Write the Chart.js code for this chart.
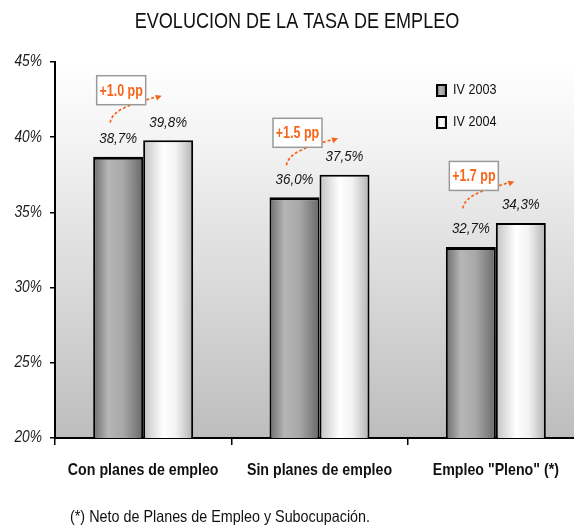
<!DOCTYPE html>
<html>
<head>
<meta charset="utf-8">
<script src="https://cdn.jsdelivr.net/npm/chart.js@4.4.1/dist/chart.umd.min.js"></script>
<style>
  html, body { margin: 0; padding: 0; background: #fff; overflow: hidden; }
  #wrap { width: 584px; height: 530px; }
</style>
</head>
<body>
<div id="wrap"><canvas id="tasaChart" width="584" height="530"></canvas></div>
<script>
// ====================== DATA ======================
const categories = ["Con planes de empleo", "Sin planes de empleo", "Empleo \"Pleno\" (*)"];
const seriesNames = ["IV 2003", "IV 2004"];
const tasa2003 = [38.7, 36.0, 32.7];
const tasa2004 = [39.8, 37.5, 34.3];
const cambioPP = [1.0, 1.5, 1.7];
const yTicks = [20, 25, 30, 35, 40, 45];

// ====================== STYLE ======================
const FONT = "'Liberation Sans', Arial, sans-serif";
const ORANGE = "#f4661b";
const CAT_PCT = 0.567;
const boxLift = [50, 42, 47];   // how far each change box sits above the 2004 bar

const fill2003 = [[0, "#6c6c6c"], [0.3, "#b6b6b6"], [0.6, "#a8a8a8"], [1, "#686868"]];
const fill2004 = [[0, "#c2c2c2"], [0.4, "#ffffff"], [0.65, "#f3f3f3"], [1, "#b2b2b2"]];

// horizontal shading across each bar, worked out from the x scale
function barGradient(context, stops) {
    const chart = context.chart;
    const xs = chart.scales.x;
    if (context.type !== "data" || !xs || !chart.chartArea) return stops[1][1];
    const nSets = chart.data.datasets.length;
    const barW = xs.width / chart.data.labels.length * CAT_PCT / nSets;
    const left = xs.getPixelForValue(context.dataIndex) - barW * nSets / 2 + barW * context.datasetIndex;
    const g = chart.ctx.createLinearGradient(left, 0, left + barW, 0);
    stops.forEach(([o, c]) => g.addColorStop(o, c));
    return g;
}

// condensed text (no narrow face installed, so squeeze horizontally)
function narrowText(ctx, text, x, y, font, align = "center", squeeze = 0.82, color = "#111") {
    ctx.save();
    ctx.font = font;
    ctx.fillStyle = color;
    ctx.textBaseline = "middle";
    ctx.textAlign = align;
    ctx.translate(x, y);
    ctx.scale(squeeze, 1);
    ctx.fillText(text, 0, 0);
    ctx.restore();
}

// ====================== PLUGINS ======================
const plotBackground = {
    id: "plotBackground",
    beforeDraw(chart) {
        const { ctx, chartArea: a } = chart;
        const g = ctx.createLinearGradient(0, a.top, 0, a.bottom);
        g.addColorStop(0, "#ffffff");
        g.addColorStop(0.25, "#f1f1f1");
        g.addColorStop(1, "#bdbdbd");
        ctx.save();
        ctx.fillStyle = g;
        ctx.fillRect(a.left, a.top, a.right - a.left, a.bottom - a.top);
        ctx.restore();
    }
};

function drawArrow(ctx, x0, y0, x3, y3) {
    ctx.save();
    ctx.strokeStyle = ORANGE;
    ctx.fillStyle = ORANGE;
    ctx.lineWidth = 1.7;
    ctx.setLineDash([3, 2]);
    ctx.beginPath();
    ctx.moveTo(x0, y0);
    ctx.bezierCurveTo(x0 + 2, y0 - 14, x0 + 24, y3 + 8, x3 - 5, y3 + 1);
    ctx.stroke();
    ctx.setLineDash([]);
    // arrow head
    const ang = Math.atan2(-3, 8);
    ctx.beginPath();
    ctx.moveTo(x3, y3);
    ctx.lineTo(x3 - 6 * Math.cos(ang) + 3 * Math.sin(ang), y3 - 6 * Math.sin(ang) - 3 * Math.cos(ang));
    ctx.lineTo(x3 - 6 * Math.cos(ang) - 3 * Math.sin(ang), y3 - 6 * Math.sin(ang) + 3 * Math.cos(ang));
    ctx.closePath();
    ctx.fill();
    ctx.restore();
}

const valueNotes = {
    id: "valueNotes",
    afterDatasetsDraw(chart) {
        const { ctx } = chart;
        const m0 = chart.getDatasetMeta(0);
        const m1 = chart.getDatasetMeta(1);

        // value labels over the bars
        [m0, m1].forEach((meta, d) => {
            meta.data.forEach((bar, i) => {
                const v = chart.data.datasets[d].data[i];
                narrowText(ctx, v.toFixed(1).replace(".", ",") + "%", bar.x, bar.y - 18,
                    "italic 15.5px " + FONT, "center", 0.86, "#141414");
            });
        });

        // change boxes with arrows
        m0.data.forEach((bar, i) => {
            const w = 49, h = 29;
            const cx = bar.x + 3;
            const cy = m1.data[i].y - boxLift[i];
            const left = cx - w / 2, top = cy - h / 2;
            drawArrow(ctx, cx - 11, top + h + 18, left + w + 16, top + h - 9);
            ctx.save();
            ctx.fillStyle = "#ffffff";
            ctx.fillRect(left, top, w, h);
            ctx.strokeStyle = "#9a9a9a";
            ctx.lineWidth = 1.5;
            ctx.strokeRect(left, top, w, h);
            ctx.restore();
            narrowText(ctx, "+" + cambioPP[i].toFixed(1) + " pp", cx, cy + 1,
                "bold 16px " + FONT, "center", 0.78, ORANGE);
        });
    },
    afterDraw(chart) {
        const { ctx } = chart;
        const xs = chart.scales.x;
        const ys = chart.scales.y;

        narrowText(ctx, "EVOLUCION DE LA TASA DE EMPLEO", 297, 22, "22px " + FONT, "center", 0.82);

        // axis labels
        ys.ticks.forEach(t => {
            narrowText(ctx, t.value + "%", 42, ys.getPixelForValue(t.value),
                "italic 16px " + FONT, "right", 0.86, "#1c1c1c");
        });
        chart.data.labels.forEach((lab, i) => {
            narrowText(ctx, lab, xs.getPixelForValue(i), 470, "bold 16.5px " + FONT, "center", 0.86);
        });

        // legend
        const fills = [fill2003, fill2004];
        chart.data.datasets.forEach((ds, d) => {
            const y = 90 + d * 32;
            const g = ctx.createLinearGradient(437, 0, 447, 0);
            fills[d].forEach(([o, c]) => g.addColorStop(o, c));
            ctx.save();
            ctx.fillStyle = g;
            ctx.fillRect(437, y - 5, 9, 11);
            ctx.strokeStyle = "#000";
            ctx.lineWidth = 2;
            ctx.strokeRect(437, y - 5, 9, 11);
            ctx.restore();
            narrowText(ctx, ds.label, 453, y, "15px " + FONT, "left", 0.84);
        });

        // footnote
        narrowText(ctx, "(*) Neto de Planes de Empleo y Subocupación.", 70, 517, "16.5px " + FONT, "left", 0.87);
    }
};

// ====================== CHART ======================
new Chart(document.getElementById("tasaChart"), {
    type: "bar",
    data: {
        labels: categories,
        datasets: [
            {
                label: seriesNames[0],
                data: tasa2003,
                backgroundColor: c => barGradient(c, fill2003),
                borderColor: "#000",
                borderWidth: { top: 3, left: 2, right: 2, bottom: 0 }
            },
            {
                label: seriesNames[1],
                data: tasa2004,
                backgroundColor: c => barGradient(c, fill2004),
                borderColor: "#000",
                borderWidth: { top: 2, left: 2, right: 2, bottom: 0 }
            }
        ]
    },
    options: {
        responsive: false,
        animation: false,
        layout: { padding: { top: 62, left: 10, right: 0, bottom: 50 } },
        datasets: { bar: { categoryPercentage: CAT_PCT, barPercentage: 1 } },
        plugins: {
            legend: { display: false },
            title: { display: false },
            tooltip: { enabled: false }
        },
        scales: {
            x: {
                afterFit: s => { s.height = 42; },
                grid: { offset: true, drawOnChartArea: false, tickLength: 7, color: "#000", lineWidth: 1.5 },
                border: { color: "#000", width: 2 },
                ticks: { display: false }
            },
            y: {
                min: yTicks[0],
                max: yTicks[yTicks.length - 1],
                afterFit: s => { s.width = 45; },
                afterBuildTicks: s => { s.ticks = yTicks.map(v => ({ value: v })); },
                grid: { drawOnChartArea: false, tickLength: 5, color: "#000", lineWidth: 1.5 },
                border: { color: "#000", width: 2 },
                ticks: { display: false }
            }
        }
    },
    plugins: [plotBackground, valueNotes]
});
</script>
</body>
</html>
